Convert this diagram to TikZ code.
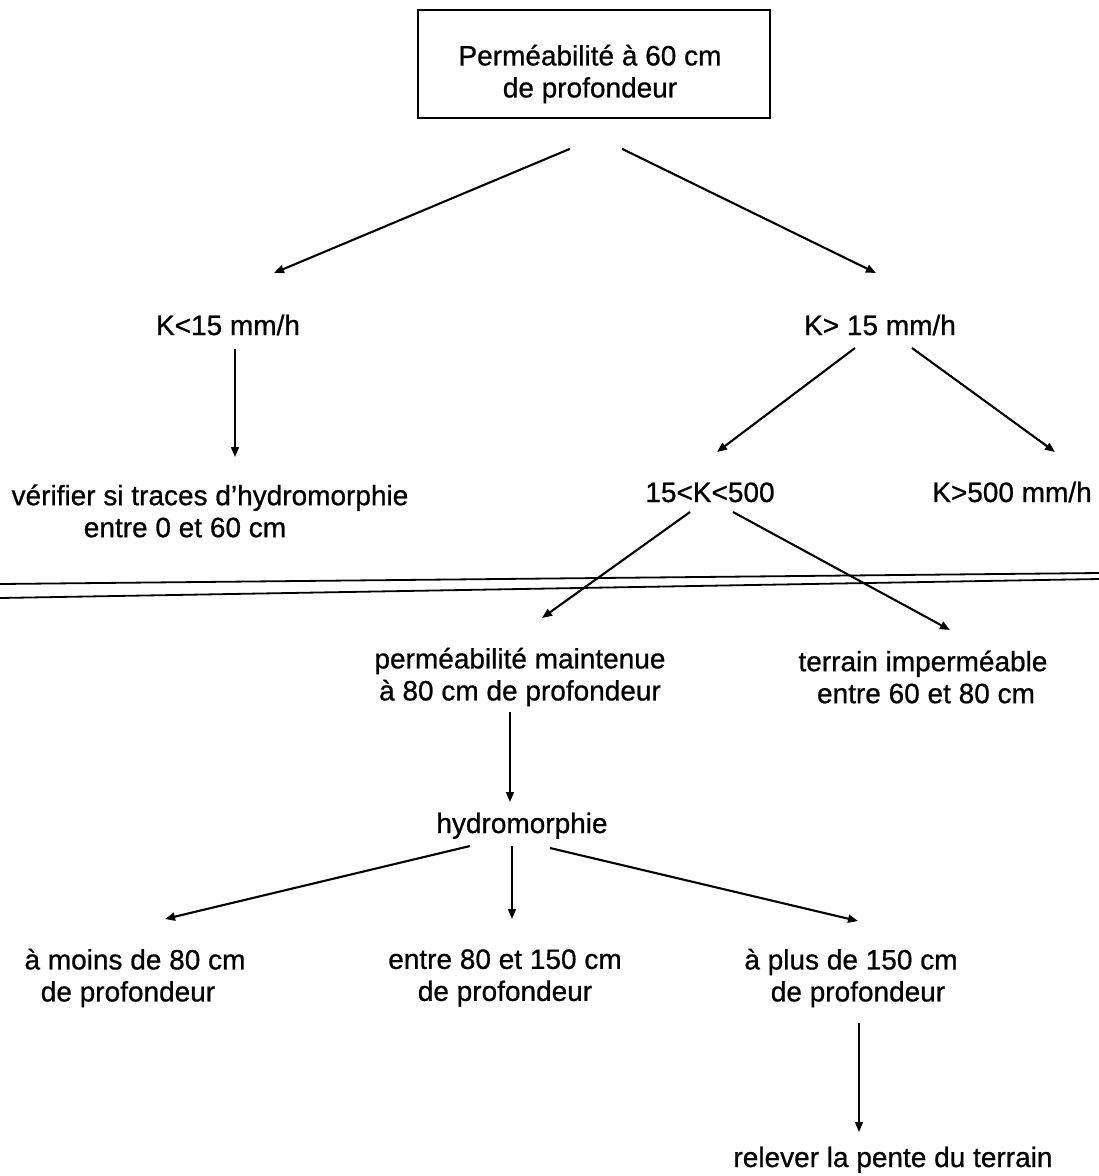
\documentclass[tikz,border=0pt]{standalone}
\usepackage{fontspec}
\setmainfont{Liberation Sans}[FakeBold=0.7]
\usetikzlibrary{arrows.meta,calc}
\begin{document}
\begin{tikzpicture}[x=1pt,y=-1pt,
  lbl/.style={inner sep=0pt,align=center,font=\fontsize{28}{32}\selectfont},
  arr/.style={line width=2.1pt,-{Triangle[length=10pt,width=8pt]}},
  varr/.style={line width=1.6pt,-{Triangle[length=10pt,width=8pt]}}]
\useasboundingbox[fill=white] (0,0) rectangle (1099,1176);

\node[draw,line width=1.6pt,minimum width=352pt,minimum height=108pt,inner sep=0pt] (frame) at (594,64) {};
\node[lbl] (top) at (590,74) {Perméabilité à 60 cm\\de profondeur};

\node[lbl,anchor=base] (k1) at (228,335) {K<15 mm/h};
\node[lbl,anchor=base] (k2) at (880,335) {K> 15 mm/h};
\node[lbl] (ver) at (210,511) {vérifier si traces d’hydromorphie\\entre 0 et 60 cm\hspace*{50pt}};
\node[lbl,anchor=base] (k3) at (710,502) {15<K<500};
\node[lbl,anchor=base] (k4) at (1012,502) {K>500 mm/h};
\node[lbl] (pm) at (520,677) {perméabilité maintenue\\à 80 cm de profondeur};
\node[lbl] (ti) at (926,677) {terrain imperméable\hspace*{6pt}\\entre 60 et 80 cm};
\node[lbl,anchor=base] (hy) at (522,833) {hydromorphie};
\node[lbl] (b1n) at (135,978) {à moins de 80 cm\\de profondeur\hspace*{14pt}};
\node[lbl] (b2n) at (505,978) {entre 80 et 150 cm\\de profondeur};
\node[lbl] (b3n) at (858,978) {à plus de 150 cm\hspace*{14pt}\\de profondeur};
\node[lbl,anchor=base] (rel) at (893,1167) {relever la pente du terrain};

% double separating line
\draw[line width=1.8pt] (0,584) -- (1099,573);
\draw[line width=1.8pt] (0,598) -- (1099,579);

% connectors
\draw[arr] ($(frame.south)+(-24,30)$) -- ($(k1.base)+(46,-62)$);
\draw[arr] ($(frame.south)+(28,30)$) -- ($(k2.base)+(-4,-62)$);
\draw[varr] ($(k1.base)+(7,14)$) -- ($(ver.center)+(25,-54)$);
\draw[arr] ($(k2.base)+(-25,13)$) -- ($(k3.base)+(7,-50)$);
\draw[arr] ($(k2.base)+(32,13)$) -- ($(k4.base)+(43,-50)$);
\draw[arr] ($(k3.base)+(-20,10)$) -- ($(pm.center)+(22,-59)$);
\draw[arr] ($(k3.base)+(23,10)$) -- ($(ti.center)+(24,-47)$);
\draw[varr] ($(pm.center)+(-10,35)$) -- ($(hy.base)+(-12,-31)$);
\draw[arr] ($(hy.base)+(-52,13)$) -- ($(b1n.center)+(30,-59)$);
\draw[varr] ($(hy.base)+(-10,13)$) -- ($(b2n.center)+(7,-59)$);
\draw[arr] ($(hy.base)+(28,15)$) -- ($(b3n.center)+(0,-57)$);
\draw[varr] ($(b3n.center)+(1,45)$) -- ($(rel.base)+(-34,-35)$);
\end{tikzpicture}
\end{document}
